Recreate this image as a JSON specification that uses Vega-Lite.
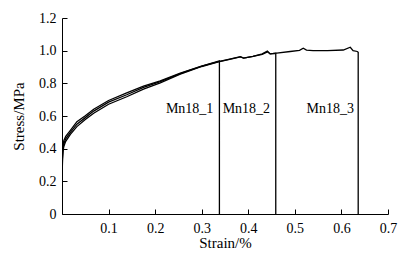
{
  "$schema": "https://vega.github.io/schema/vega-lite/v6.json",
  "autosize": "none",
  "width": 326,
  "height": 196,
  "padding": {"left": 62, "top": 18, "right": 16, "bottom": 41},
  "background": "white",
  "config": {
    "view": {"stroke": null},
    "font": "Liberation Serif",
    "axis": {
      "grid": false,
      "domainColor": "black",
      "tickColor": "black",
      "labelColor": "black",
      "titleColor": "black",
      "labelFont": "Liberation Serif",
      "titleFont": "Liberation Serif",
      "labelFontSize": 14,
      "titleFontSize": 15,
      "titleFontWeight": "normal",
      "tickSize": -5,
      "domainWidth": 1,
      "tickWidth": 1,
      "labelOverlap": false,
      "labelFlush": false
    }
  },
  "datasets": {
    "curves": [
      {"s": "Mn18_1", "i": 0, "strain": 0, "stress": 0},
      {"s": "Mn18_1", "i": 1, "strain": 0.0005, "stress": 0.26},
      {"s": "Mn18_1", "i": 2, "strain": 0.001, "stress": 0.36},
      {"s": "Mn18_1", "i": 3, "strain": 0.002, "stress": 0.41},
      {"s": "Mn18_1", "i": 4, "strain": 0.004, "stress": 0.45},
      {"s": "Mn18_1", "i": 5, "strain": 0.008, "stress": 0.475},
      {"s": "Mn18_1", "i": 6, "strain": 0.018, "stress": 0.512},
      {"s": "Mn18_1", "i": 7, "strain": 0.032, "stress": 0.565},
      {"s": "Mn18_1", "i": 8, "strain": 0.05, "stress": 0.602},
      {"s": "Mn18_1", "i": 9, "strain": 0.068, "stress": 0.641},
      {"s": "Mn18_1", "i": 10, "strain": 0.1, "stress": 0.695},
      {"s": "Mn18_1", "i": 11, "strain": 0.139, "stress": 0.742},
      {"s": "Mn18_1", "i": 12, "strain": 0.175, "stress": 0.783},
      {"s": "Mn18_1", "i": 13, "strain": 0.211, "stress": 0.815},
      {"s": "Mn18_1", "i": 14, "strain": 0.254, "stress": 0.863},
      {"s": "Mn18_1", "i": 15, "strain": 0.272, "stress": 0.88},
      {"s": "Mn18_1", "i": 16, "strain": 0.3, "stress": 0.906},
      {"s": "Mn18_1", "i": 17, "strain": 0.338, "stress": 0.937},
      {"s": "Mn18_1", "i": 18, "strain": 0.338, "stress": 0},
      {"s": "Mn18_2", "i": 0, "strain": 0, "stress": 0},
      {"s": "Mn18_2", "i": 1, "strain": 0.0005, "stress": 0.25},
      {"s": "Mn18_2", "i": 2, "strain": 0.001, "stress": 0.34},
      {"s": "Mn18_2", "i": 3, "strain": 0.002, "stress": 0.39},
      {"s": "Mn18_2", "i": 4, "strain": 0.004, "stress": 0.43},
      {"s": "Mn18_2", "i": 5, "strain": 0.008, "stress": 0.46},
      {"s": "Mn18_2", "i": 6, "strain": 0.018, "stress": 0.5},
      {"s": "Mn18_2", "i": 7, "strain": 0.032, "stress": 0.55},
      {"s": "Mn18_2", "i": 8, "strain": 0.05, "stress": 0.59},
      {"s": "Mn18_2", "i": 9, "strain": 0.068, "stress": 0.63},
      {"s": "Mn18_2", "i": 10, "strain": 0.1, "stress": 0.685},
      {"s": "Mn18_2", "i": 11, "strain": 0.139, "stress": 0.73},
      {"s": "Mn18_2", "i": 12, "strain": 0.175, "stress": 0.775},
      {"s": "Mn18_2", "i": 13, "strain": 0.211, "stress": 0.81},
      {"s": "Mn18_2", "i": 14, "strain": 0.254, "stress": 0.86},
      {"s": "Mn18_2", "i": 15, "strain": 0.272, "stress": 0.878},
      {"s": "Mn18_2", "i": 16, "strain": 0.3, "stress": 0.905},
      {"s": "Mn18_2", "i": 17, "strain": 0.336, "stress": 0.933},
      {"s": "Mn18_2", "i": 18, "strain": 0.36, "stress": 0.948},
      {"s": "Mn18_2", "i": 19, "strain": 0.383, "stress": 0.963},
      {"s": "Mn18_2", "i": 20, "strain": 0.39, "stress": 0.955},
      {"s": "Mn18_2", "i": 21, "strain": 0.41, "stress": 0.965},
      {"s": "Mn18_2", "i": 22, "strain": 0.43, "stress": 0.98},
      {"s": "Mn18_2", "i": 23, "strain": 0.441, "stress": 0.997},
      {"s": "Mn18_2", "i": 24, "strain": 0.447, "stress": 0.98},
      {"s": "Mn18_2", "i": 25, "strain": 0.459, "stress": 0.984},
      {"s": "Mn18_2", "i": 26, "strain": 0.459, "stress": 0},
      {"s": "Mn18_3", "i": 0, "strain": 0, "stress": 0},
      {"s": "Mn18_3", "i": 1, "strain": 0.0005, "stress": 0.24},
      {"s": "Mn18_3", "i": 2, "strain": 0.001, "stress": 0.33},
      {"s": "Mn18_3", "i": 3, "strain": 0.002, "stress": 0.38},
      {"s": "Mn18_3", "i": 4, "strain": 0.004, "stress": 0.415},
      {"s": "Mn18_3", "i": 5, "strain": 0.008, "stress": 0.445},
      {"s": "Mn18_3", "i": 6, "strain": 0.018, "stress": 0.488},
      {"s": "Mn18_3", "i": 7, "strain": 0.032, "stress": 0.535},
      {"s": "Mn18_3", "i": 8, "strain": 0.05, "stress": 0.578},
      {"s": "Mn18_3", "i": 9, "strain": 0.068, "stress": 0.617},
      {"s": "Mn18_3", "i": 10, "strain": 0.1, "stress": 0.672},
      {"s": "Mn18_3", "i": 11, "strain": 0.139, "stress": 0.718},
      {"s": "Mn18_3", "i": 12, "strain": 0.175, "stress": 0.765},
      {"s": "Mn18_3", "i": 13, "strain": 0.211, "stress": 0.803},
      {"s": "Mn18_3", "i": 14, "strain": 0.254, "stress": 0.856},
      {"s": "Mn18_3", "i": 15, "strain": 0.272, "stress": 0.875},
      {"s": "Mn18_3", "i": 16, "strain": 0.3, "stress": 0.903},
      {"s": "Mn18_3", "i": 17, "strain": 0.336, "stress": 0.932},
      {"s": "Mn18_3", "i": 18, "strain": 0.36, "stress": 0.947},
      {"s": "Mn18_3", "i": 19, "strain": 0.383, "stress": 0.962},
      {"s": "Mn18_3", "i": 20, "strain": 0.39, "stress": 0.955},
      {"s": "Mn18_3", "i": 21, "strain": 0.41, "stress": 0.965},
      {"s": "Mn18_3", "i": 22, "strain": 0.43, "stress": 0.978},
      {"s": "Mn18_3", "i": 23, "strain": 0.441, "stress": 0.993},
      {"s": "Mn18_3", "i": 24, "strain": 0.447, "stress": 0.98},
      {"s": "Mn18_3", "i": 25, "strain": 0.461, "stress": 0.985},
      {"s": "Mn18_3", "i": 26, "strain": 0.49, "stress": 0.995},
      {"s": "Mn18_3", "i": 27, "strain": 0.51, "stress": 1.002},
      {"s": "Mn18_3", "i": 28, "strain": 0.518, "stress": 1.015},
      {"s": "Mn18_3", "i": 29, "strain": 0.525, "stress": 1.003},
      {"s": "Mn18_3", "i": 30, "strain": 0.539, "stress": 1.0},
      {"s": "Mn18_3", "i": 31, "strain": 0.57, "stress": 1.0},
      {"s": "Mn18_3", "i": 32, "strain": 0.604, "stress": 1.004},
      {"s": "Mn18_3", "i": 33, "strain": 0.619, "stress": 1.021},
      {"s": "Mn18_3", "i": 34, "strain": 0.625, "stress": 1.0},
      {"s": "Mn18_3", "i": 35, "strain": 0.634, "stress": 0.995},
      {"s": "Mn18_3", "i": 36, "strain": 0.636, "stress": 0.99},
      {"s": "Mn18_3", "i": 37, "strain": 0.636, "stress": 0}
    ],
    "labels": [
      {"s": "Mn18_1", "strain": 0.325, "stress": 0.645},
      {"s": "Mn18_2", "strain": 0.345, "stress": 0.645},
      {"s": "Mn18_3", "strain": 0.576, "stress": 0.645}
    ]
  },
  "layer": [
    {
      "data": {"name": "curves"},
      "mark": {"type": "line", "color": "black", "strokeWidth": 1.3, "clip": true},
      "encoding": {
        "x": {
          "field": "strain", "type": "quantitative",
          "scale": {"domain": [0, 0.7], "nice": false, "zero": true},
          "axis": {
            "title": "Strain/%",
            "values": [0, 0.1, 0.2, 0.3, 0.4, 0.5, 0.6, 0.7],
            "tickCount": 20,
            "labelExpr": "datum.value == 0 ? '' : format(datum.value, '.1f')",
            "labelPadding": 12,
            "titlePadding": 0,
            "labelOverlap": false
          }
        },
        "y": {
          "field": "stress", "type": "quantitative",
          "scale": {"domain": [0, 1.2], "nice": false},
          "axis": {
            "title": "Stress/MPa",
            "values": [0, 0.2, 0.4, 0.6, 0.8, 1.0, 1.2],
            "tickCount": 20,
            "labelExpr": "datum.value == 0 ? '0' : format(datum.value, '.1f')",
            "labelPadding": 11,
            "titlePadding": 12,
            "labelOverlap": false
          }
        },
        "detail": {"field": "s"},
        "order": {"field": "i", "type": "quantitative"}
      }
    },
    {
      "data": {"name": "labels"},
      "transform": [{"filter": "datum.s == 'Mn18_1'"}],
      "mark": {"type": "text", "fontSize": 14, "font": "Liberation Serif", "color": "black", "baseline": "middle", "align": "right"},
      "encoding": {
        "x": {"field": "strain", "type": "quantitative"},
        "y": {"field": "stress", "type": "quantitative"},
        "text": {"field": "s"}
      }
    },
    {
      "data": {"name": "labels"},
      "transform": [{"filter": "datum.s == 'Mn18_2'"}],
      "mark": {"type": "text", "fontSize": 14, "font": "Liberation Serif", "color": "black", "baseline": "middle", "align": "left"},
      "encoding": {
        "x": {"field": "strain", "type": "quantitative"},
        "y": {"field": "stress", "type": "quantitative"},
        "text": {"field": "s"}
      }
    },
    {
      "data": {"name": "labels"},
      "transform": [{"filter": "datum.s == 'Mn18_3'"}],
      "mark": {"type": "text", "fontSize": 14, "font": "Liberation Serif", "color": "black", "baseline": "middle", "align": "center"},
      "encoding": {
        "x": {"field": "strain", "type": "quantitative"},
        "y": {"field": "stress", "type": "quantitative"},
        "text": {"field": "s"}
      }
    }
  ]
}
